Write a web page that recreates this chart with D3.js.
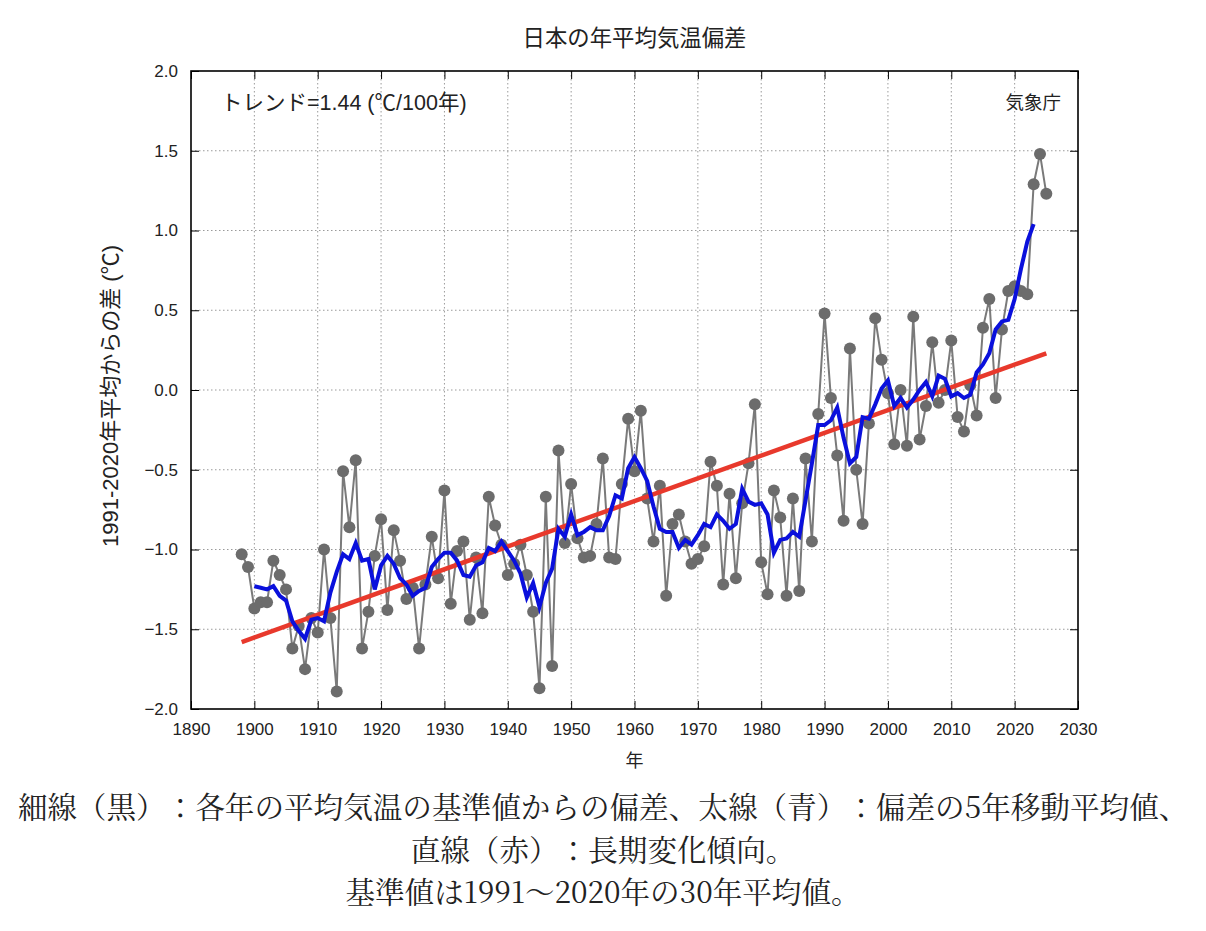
<!DOCTYPE html>
<html lang="ja">
<head>
  <meta charset="UTF-8">
  <title>日本の年平均気温偏差</title>
  <script src="https://cdn.jsdelivr.net/npm/d3@7"></script>
  <style>
    html, body { margin: 0; padding: 0; background: #fff; }
    svg { display: block; }
    text { text-spacing-trim: space-all; }
  </style>
</head>
<body>
<svg></svg>
<script>
  // 年平均気温偏差 (1991-2020年平均からの差, ℃)
  const years = d3.range(1898, 2026)
  const anomaly = [
    -1.03, -1.11, -1.37, -1.33, -1.33, -1.07, -1.16, -1.25, -1.62, -1.48, // 1898-1907
    -1.75, -1.43, -1.52, -1.00, -1.43, -1.89, -0.51, -0.86, -0.44, -1.62, // 1908-1917
    -1.39, -1.04, -0.81, -1.38, -0.88, -1.07, -1.31, -1.24, -1.62, -1.22, // 1918-1927
    -0.92, -1.18, -0.63, -1.34, -1.01, -0.95, -1.44, -1.05, -1.40, -0.67, // 1928-1937
    -0.85, -0.97, -1.16, -1.09, -0.97, -1.16, -1.39, -1.87, -0.67, -1.73, // 1938-1947
    -0.38, -0.96, -0.59, -0.93, -1.05, -1.04, -0.84, -0.43, -1.05, -1.06, // 1948-1957
    -0.59, -0.18, -0.51, -0.13, -0.68, -0.95, -0.60, -1.29, -0.84, -0.78, // 1958-1967
    -0.95, -1.09, -1.06, -0.98, -0.45, -0.60, -1.22, -0.65, -1.18, -0.71, // 1968-1977
    -0.46, -0.09, -1.08, -1.28, -0.63, -0.80, -1.29, -0.68, -1.26, -0.43, // 1978-1987
    -0.95, -0.15,  0.48, -0.05, -0.41, -0.82,  0.26, -0.50, -0.84, -0.21, // 1988-1997
     0.45,  0.19, -0.02, -0.34,  0.00, -0.35,  0.46, -0.31, -0.10,  0.30, // 1998-2007
    -0.08,  0.00,  0.31, -0.17, -0.26,  0.03, -0.16,  0.39,  0.57, -0.05, // 2008-2017
     0.38,  0.62,  0.65,  0.62,  0.60,  1.29,  1.48,  1.23                // 2018-2025
  ]

  // 5年移動平均 (1900-2023)
  const maYears = d3.range(1900, 2024)
  const movingAvg = [
    -1.23, -1.24, -1.25, -1.23, -1.29, -1.32, -1.45, -1.51, -1.56, -1.44, // 1900-1909
    -1.43, -1.45, -1.27, -1.14, -1.03, -1.06, -0.96, -1.07, -1.06, -1.25, // 1910-1919
    -1.10, -1.04, -1.09, -1.18, -1.22, -1.29, -1.26, -1.24, -1.11, -1.06, // 1920-1929
    -1.02, -1.02, -1.07, -1.16, -1.17, -1.10, -1.08, -0.99, -1.01, -0.95, // 1930-1939
    -1.01, -1.07, -1.15, -1.30, -1.21, -1.36, -1.21, -1.12, -0.87, -0.92, // 1940-1949
    -0.78, -0.91, -0.89, -0.86, -0.88, -0.88, -0.79, -0.66, -0.68, -0.49, // 1950-1959
    -0.42, -0.49, -0.57, -0.73, -0.87, -0.89, -0.89, -0.99, -0.94, -0.97, // 1960-1969
    -0.91, -0.84, -0.86, -0.78, -0.82, -0.87, -0.84, -0.62, -0.70, -0.72, // 1970-1979
    -0.71, -0.78, -1.02, -0.94, -0.93, -0.89, -0.92, -0.69, -0.46, -0.22, // 1980-1989
    -0.22, -0.19, -0.11, -0.30, -0.46, -0.42, -0.17, -0.18, -0.09,  0.01, // 1990-1999
     0.06, -0.10, -0.05, -0.11, -0.06,  0.00,  0.05, -0.04,  0.09,  0.07, // 2000-2009
    -0.04, -0.02, -0.05, -0.03,  0.11,  0.16,  0.23,  0.38,  0.43,  0.44, // 2010-2019
     0.57,  0.76,  0.93,  1.04                                             // 2020-2023
  ]

  // 長期変化傾向 (1.44℃/100年)
  const trendYears = [1898, 2025]
  const trendValues = [-1.58, 0.23]

  const xTicks = d3.range(1890, 2031, 10)
  const yTicks = [-2.0, -1.5, -1.0, -0.5, 0.0, 0.5, 1.0, 1.5, 2.0]

  const captionLines = [
    '細線（黒）：各年の平均気温の基準値からの偏差、太線（青）：偏差の5年移動平均値、',
    '直線（赤）：長期変化傾向。',
    '基準値は1991〜2020年の30年平均値。'
  ]

  const width = 1206, height = 931
  const margin = {top: 71, right: 128, bottom: 222, left: 191}
  const latin = 'Liberation Sans, Arial, Helvetica, sans-serif'
  const mixed = '"Liberation Sans", "Noto Sans CJK JP", sans-serif'
  const jp = '"Noto Sans CJK JP", sans-serif'

  const svg = d3.select('svg')
      .attr('width', width)
      .attr('height', height)
      .attr('viewBox', [0, 0, width, height])
      .style('background', '#fff')

  const x = d3.scaleLinear()
      .domain([1890, 2030])
      .range([margin.left, width - margin.right])

  const y = d3.scaleLinear()
      .domain([-2, 2])
      .range([height - margin.bottom, margin.top])

  const x0 = x.range()[0], x1 = x.range()[1]
  const y0 = y.range()[0], y1 = y.range()[1]

  // グリッド (点線)
  svg.append('g')
      .attr('stroke', '#9a9a9a')
      .attr('stroke-width', 1)
      .attr('stroke-dasharray', '1.5,2.5')
      .call(g => g.selectAll('.gx')
          .data(xTicks.slice(1, -1))
          .join('line')
          .attr('x1', d => x(d)).attr('x2', d => x(d))
          .attr('y1', y1).attr('y2', y0))
      .call(g => g.selectAll('.gy')
          .data(yTicks.slice(1, -1))
          .join('line')
          .attr('class', 'gy')
          .attr('x1', x0).attr('x2', x1)
          .attr('y1', d => y(d)).attr('y2', d => y(d)))

  // 軸 (内向き目盛、上と右にも)
  const fmtY = d3.format('.1f')
  const styleAxis = g => {
    g.select('.domain').remove()
    g.selectAll('.tick line').attr('stroke', '#000').attr('stroke-width', 1)
    g.selectAll('.tick text')
        .attr('font-family', latin)
        .attr('font-size', 17)
        .attr('fill', '#222')
  }

  svg.append('g')
      .attr('transform', `translate(0,${y0})`)
      .call(d3.axisBottom(x).tickValues(xTicks).tickFormat(d3.format('d'))
          .tickSizeInner(-8).tickSizeOuter(0).tickPadding(14))
      .call(styleAxis)

  svg.append('g')
      .attr('transform', `translate(0,${y1})`)
      .call(d3.axisTop(x).tickValues(xTicks).tickFormat('')
          .tickSizeInner(-8).tickSizeOuter(0))
      .call(styleAxis)

  svg.append('g')
      .attr('transform', `translate(${x0},0)`)
      .call(d3.axisLeft(y).tickValues(yTicks).tickFormat(fmtY)
          .tickSizeInner(-8).tickSizeOuter(0).tickPadding(13))
      .call(styleAxis)

  svg.append('g')
      .attr('transform', `translate(${x1},0)`)
      .call(d3.axisRight(y).tickValues(yTicks).tickFormat('')
          .tickSizeInner(-8).tickSizeOuter(0))
      .call(styleAxis)

  // 枠
  svg.append('rect')
      .attr('x', x0).attr('y', y1)
      .attr('width', x1 - x0).attr('height', y0 - y1)
      .attr('fill', 'none')
      .attr('stroke', '#000')
      .attr('stroke-width', 1.6)

  const series = years.map((yr, i) => ({year: yr, value: anomaly[i]}))
  const maSeries = maYears.map((yr, i) => ({year: yr, value: movingAvg[i]}))
  const trend = trendYears.map((yr, i) => ({year: yr, value: trendValues[i]}))

  const line = d3.line()
      .x(d => x(d.year))
      .y(d => y(d.value))

  // 細線 (各年の偏差)
  svg.append('path')
      .datum(series)
      .attr('d', line)
      .attr('fill', 'none')
      .attr('stroke', '#7a7a7a')
      .attr('stroke-width', 2)

  svg.append('g')
      .attr('fill', '#6c6c6c')
      .selectAll('circle')
      .data(series)
      .join('circle')
      .attr('cx', d => x(d.year))
      .attr('cy', d => y(d.value))
      .attr('r', 6)

  // 直線 (長期変化傾向)
  svg.append('path')
      .datum(trend)
      .attr('d', line)
      .attr('fill', 'none')
      .attr('stroke', '#e8392c')
      .attr('stroke-width', 4.5)

  // 太線 (5年移動平均)
  svg.append('path')
      .datum(maSeries)
      .attr('d', line)
      .attr('fill', 'none')
      .attr('stroke', '#0a10dc')
      .attr('stroke-width', 4)
      .attr('stroke-linejoin', 'miter')

  // テキスト
  svg.append('text')
      .attr('x', (x0 + x1) / 2)
      .attr('y', 46)
      .attr('text-anchor', 'middle')
      .attr('font-family', jp)
      .attr('font-size', 22.4)
      .attr('fill', '#222')
      .text('日本の年平均気温偏差')

  svg.append('text')
      .attr('x', 221)
      .attr('y', 110)
      .attr('font-family', mixed)
      .attr('font-size', 21.5)
      .attr('fill', '#222')
      .text('トレンド=1.44 (℃/100年)')

  svg.append('text')
      .attr('x', x1 - 17)
      .attr('y', 109)
      .attr('text-anchor', 'end')
      .attr('font-family', jp)
      .attr('font-size', 18.5)
      .attr('fill', '#222')
      .text('気象庁')

  svg.append('text')
      .attr('x', (x0 + x1) / 2)
      .attr('y', 767)
      .attr('text-anchor', 'middle')
      .attr('font-family', jp)
      .attr('font-size', 18)
      .attr('fill', '#222')
      .text('年')

  svg.append('text')
      .attr('transform', `translate(118,${(y0 + y1) / 2 + 6}) rotate(-90)`)
      .attr('text-anchor', 'middle')
      .attr('font-family', mixed)
      .attr('font-size', 22)
      .attr('fill', '#222')
      .text('1991-2020年平均からの差 (℃)')

  svg.append('g')
      .attr('font-family', '"Noto Serif CJK JP", "DejaVu Serif", serif')
      .attr('font-size', 29.6)
      .attr('fill', '#222')
      .attr('text-anchor', 'middle')
      .selectAll('text')
      .data(captionLines)
      .join('text')
      .attr('x', width / 2)
      .attr('y', (d, i) => 818 + i * 42.5)
      .text(d => d)
</script>
</body>
</html>
